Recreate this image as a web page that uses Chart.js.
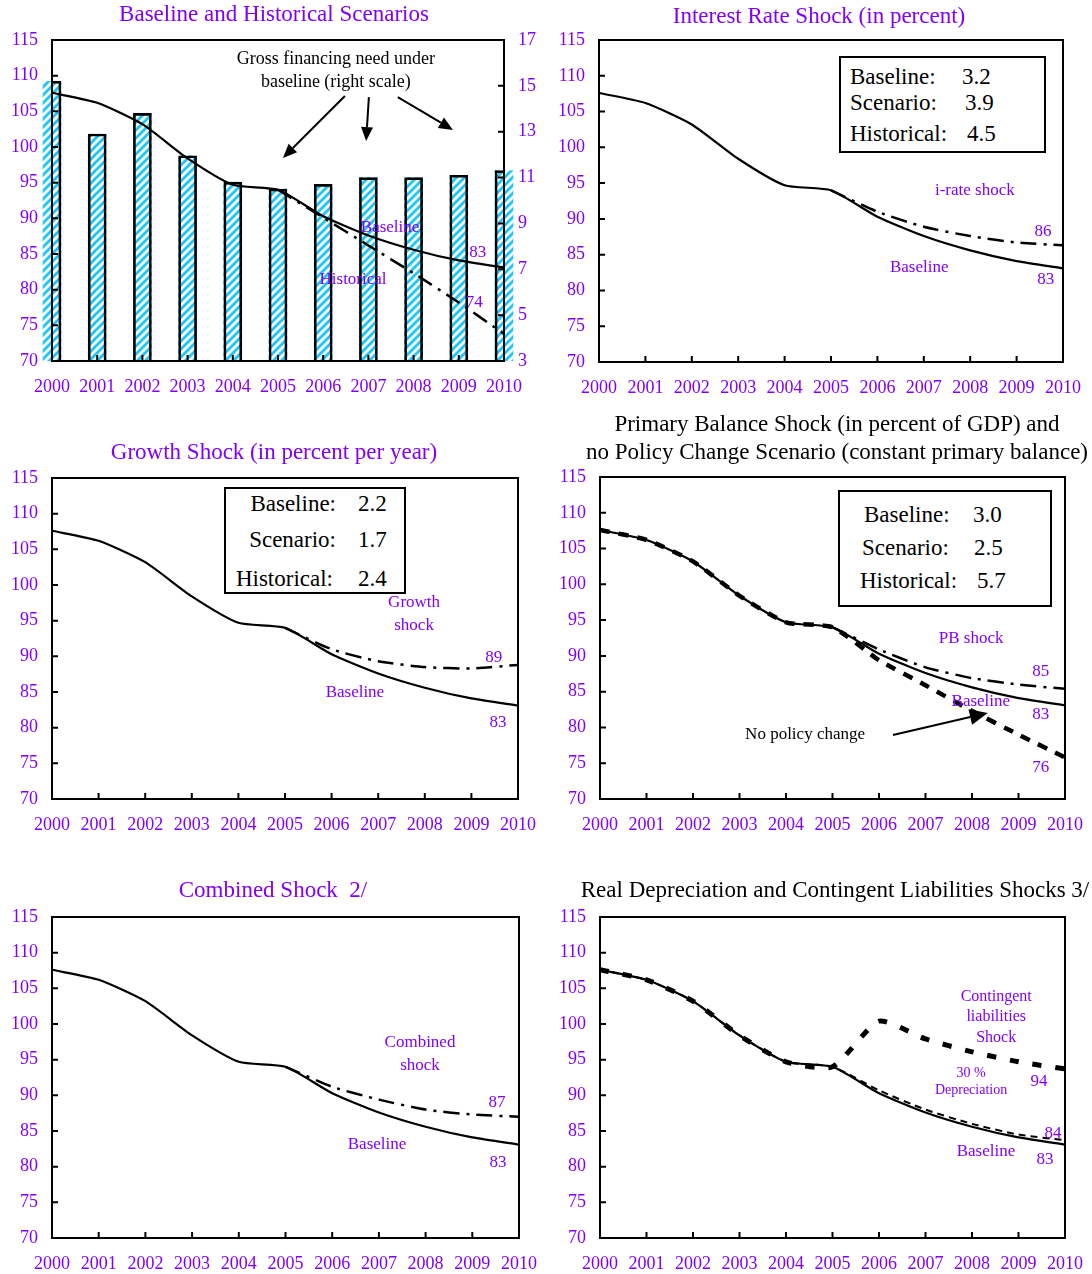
<!DOCTYPE html>
<html>
<head>
<meta charset="utf-8">
<title>Public Debt Sustainability: Bound Tests</title>
<script src="https://cdn.jsdelivr.net/npm/chart.js@4.4.1/dist/chart.umd.min.js"></script>
<style>
  html, body { margin: 0; padding: 0; background: #fff; }
  body { position: relative; width: 1092px; height: 1274px; overflow: hidden;
         font-family: "Liberation Serif", "Times New Roman", serif; }
  canvas { position: absolute; }
  .title { position: absolute; white-space: nowrap; font-size: 23px; line-height: 26px;
           transform: translateX(-50%); text-align: center; }
  .purple { color: #8000ff; }
  .black { color: #000; }
  .box { position: absolute; border: 2px solid #000; background: #fff; box-sizing: border-box; }
  .box span { position: absolute; white-space: nowrap; font-size: 23px; line-height: 26px; color: #000; }
</style>
</head>
<body>

<canvas id="c1"></canvas>
<canvas id="c2"></canvas>
<canvas id="c3"></canvas>
<canvas id="c4"></canvas>
<canvas id="c5"></canvas>
<canvas id="c6"></canvas>

<div class="title purple" style="left:274px; top:1px;">Baseline and Historical Scenarios</div>
<div class="title purple" style="left:819px; top:3px;">Interest Rate Shock (in percent)</div>
<div class="title purple" style="left:274px; top:439px;">Growth Shock (in percent per year)</div>
<div class="title black" style="left:837px; top:410px; line-height:28px;">Primary Balance Shock (in percent of GDP) and<br>no Policy Change Scenario (constant primary balance)</div>
<div class="title purple" style="left:273px; top:877px;">Combined Shock&nbsp; 2/</div>
<div class="title black" style="left:835px; top:877px;">Real Depreciation and Contingent Liabilities Shocks 3/</div>

<div class="box" style="left:839px; top:56px; width:207px; height:97px;">
  <span style="left:9px; top:6px;">Baseline:</span><span style="left:121px; top:6px;">3.2</span>
  <span style="left:9px; top:32px;">Scenario:</span><span style="left:124px; top:32px;">3.9</span>
  <span style="left:9px; top:63px;">Historical:</span><span style="left:126px; top:63px;">4.5</span>
</div>
<div class="box" style="left:224px; top:487px; width:182px; height:107px;">
  <span style="right:68px; top:2px;">Baseline:</span><span style="left:132px; top:2px;">2.2</span>
  <span style="right:68px; top:38px;">Scenario:</span><span style="left:132px; top:38px;">1.7</span>
  <span style="right:71px; top:77px;">Historical:</span><span style="left:132px; top:77px;">2.4</span>
</div>
<div class="box" style="left:838px; top:490px; width:214px; height:117px;">
  <span style="left:24px; top:10px;">Baseline:</span><span style="left:133px; top:10px;">3.0</span>
  <span style="left:22px; top:43px;">Scenario:</span><span style="left:134px; top:43px;">2.5</span>
  <span style="left:20px; top:76px;">Historical:</span><span style="left:137px; top:76px;">5.7</span>
</div>

<script>
// ---- Data: public debt (in percent of GDP) and gross financing need ----
const years = ['2000', '2001', '2002', '2003', '2004', '2005', '2006', '2007', '2008', '2009', '2010'];
const debtTicks = [70, 75, 80, 85, 90, 95, 100, 105, 110, 115];
const gfnTicks = [3, 5, 7, 9, 11, 13, 15, 17];

const baseline = [107.6, 106.2, 103.2, 98.4, 94.7, 94.0, 90.3, 87.6, 85.6, 84.1, 83.1];
const grossFinancingNeed = [15.2, 12.9, 13.8, 11.95, 10.8, 10.5, 10.7, 11.0, 11.0, 11.1, 11.3];
const historical = [null, null, null, null, null, 94.0, 90.1, 86.2, 82.3, 78.2, 73.8];
const interestRateShock = [null, null, null, null, null, 94.0, 91.0, 88.9, 87.6, 86.7, 86.3];
const growthShock = [null, null, null, null, null, 94.0, 91.0, 89.3, 88.5, 88.3, 88.8];
const pbShock = [null, null, null, null, null, 94.0, 90.9, 88.4, 86.9, 86.0, 85.4];
const noPolicyChange = [107.6, 106.2, 103.2, 98.4, 94.7, 94.0, 89.4, 85.9, 82.3, 79.0, 75.8];
const combinedShock = [null, null, null, null, null, 94.0, 91.2, 89.4, 88.0, 87.3, 87.0];
const depreciation30 = [107.6, 106.2, 103.2, 98.4, 94.7, 94.0, 90.7, 88.0, 86.0, 84.5, 83.7];
const contingentLiabilities = [107.6, 106.2, 103.2, 98.4, 94.7, 94.0, 100.4, 97.9, 96.1, 94.7, 93.7];

// ---- Styling ----
const PURPLE = '#8000ff';
const FONT = '"Liberation Serif", "Times New Roman", serif';
Chart.defaults.font.family = FONT;

const last = arr => arr[arr.length - 1];

// Frame, inward tick marks, text notes and arrows drawn on top of the series
const decor = {
  id: 'decor',
  afterDatasetsDraw(chart, args, opts) {
    const { ctx, chartArea: a, scales } = chart;
    const sx = scales.x, sy = scales.y;
    const px = yr => sx.getPixelForValue(yr - 2000);
    ctx.save();
    ctx.strokeStyle = '#000';
    ctx.lineWidth = 2;
    ctx.beginPath();
    sx.ticks.forEach((t, i) => {
      const x = sx.getPixelForTick(i);
      ctx.moveTo(x, a.bottom); ctx.lineTo(x, a.bottom - 6);
    });
    sy.ticks.forEach(t => {
      const y = sy.getPixelForValue(t.value);
      ctx.moveTo(a.left, y); ctx.lineTo(a.left + 6, y);
    });
    if (scales.y1) {
      scales.y1.ticks.forEach(t => {
        const y = scales.y1.getPixelForValue(t.value);
        ctx.moveTo(a.right, y); ctx.lineTo(a.right - 6, y);
      });
    }
    ctx.stroke();
    ctx.strokeRect(a.left, a.top, a.right - a.left, a.bottom - a.top);

    (opts.arrows || []).forEach(ar => {
      const x0 = px(ar.from[0]), y0 = sy.getPixelForValue(ar.from[1]);
      const x1 = px(ar.to[0]), y1 = sy.getPixelForValue(ar.to[1]);
      const len = ar.head || 14, half = ar.half || 6;
      const ang = Math.atan2(y1 - y0, x1 - x0);
      const bx = x1 - len * Math.cos(ang), by = y1 - len * Math.sin(ang);
      ctx.lineWidth = 2;
      ctx.beginPath(); ctx.moveTo(x0, y0); ctx.lineTo(bx, by); ctx.stroke();
      ctx.fillStyle = '#000';
      ctx.beginPath();
      ctx.moveTo(x1, y1);
      ctx.lineTo(bx + half * Math.sin(ang), by - half * Math.cos(ang));
      ctx.lineTo(bx - half * Math.sin(ang), by + half * Math.cos(ang));
      ctx.closePath(); ctx.fill();
    });

    ctx.textAlign = 'center';
    ctx.textBaseline = 'middle';
    (opts.notes || []).forEach(n => {
      const text = n.series ? String(Math.round(last(n.series))) : n.text;
      ctx.font = (n.size || 17) + 'px ' + FONT;
      ctx.fillStyle = n.color || PURPLE;
      ctx.fillText(text, px(n.x), sy.getPixelForValue(n.y));
    });
    ctx.restore();
  }
};

function lineSet(data, style) {
  return Object.assign({
    type: 'line', data, borderColor: '#000', borderWidth: 2.2, pointRadius: 0,
    tension: 0.2, fill: false, borderCapStyle: 'butt', order: 1
  }, style || {});
}
const DASH_DOT = { borderWidth: 2.5, borderDash: [16, 7, 3, 7] };

function makePanel(id, area, cfg) {
  const rs = cfg.rightSpace !== undefined ? cfg.rightSpace : 27;
  const axisRight = cfg.rightAxis ? 40 : 0;
  const canvas = document.getElementById(id);
  const w = area.r - area.l + 52 + axisRight + rs, h = area.b - area.t + 30 + 45;
  canvas.width = w; canvas.height = h;
  canvas.style.width = w + 'px'; canvas.style.height = h + 'px';
  canvas.style.left = (area.l - 52) + 'px';
  canvas.style.top = (area.t - 30) + 'px';
  const datasets = cfg.datasets(canvas.getContext('2d'));

  const scales = {
    x: {
      type: 'category', offset: false,
      grid: { display: false, drawTicks: false }, border: { display: false },
      ticks: { color: PURPLE, font: { size: 18 }, padding: 15, autoSkip: false, maxRotation: 0 },
      afterFit(s) { s.height = 45; s.paddingLeft = 0; s.paddingRight = 0; }
    },
    y: {
      min: 70, max: 115,
      grid: { display: false, drawTicks: false }, border: { display: false },
      ticks: { color: PURPLE, font: { size: 18 }, padding: 14 },
      afterBuildTicks(s) { s.ticks = debtTicks.map(v => ({ value: v })); },
      afterFit(s) { s.width = 52; s.paddingTop = 0; s.paddingBottom = 0; }
    }
  };
  if (cfg.rightAxis) {
    scales.y1 = {
      position: 'right', min: 3, max: 17,
      grid: { display: false, drawTicks: false }, border: { display: false },
      ticks: { color: PURPLE, font: { size: 18 }, padding: 14 },
      afterBuildTicks(s) { s.ticks = gfnTicks.map(v => ({ value: v })); },
      afterFit(s) { s.width = axisRight; s.paddingTop = 0; s.paddingBottom = 0; }
    };
  }

  new Chart(canvas, {
    type: 'line',
    data: { labels: years, datasets },
    options: {
      responsive: false, animation: false, devicePixelRatio: 1,
      layout: { autoPadding: false, padding: { top: 30, right: rs, left: 0, bottom: 0 } },
      plugins: {
        legend: { display: false }, tooltip: { enabled: false },
        decor: { notes: cfg.notes || [], arrows: cfg.arrows || [] }
      },
      scales
    },
    plugins: [decor]
  });
}

function hatch(ctx) {
  const c = document.createElement('canvas');
  c.width = 8; c.height = 8;
  const g = c.getContext('2d');
  g.fillStyle = '#fff'; g.fillRect(0, 0, 8, 8);
  g.strokeStyle = '#22c8f4'; g.lineWidth = 3;
  g.beginPath();
  g.moveTo(-2, 10); g.lineTo(10, -2);
  g.moveTo(-6, 6); g.lineTo(6, -6);
  g.moveTo(2, 14); g.lineTo(14, 2);
  g.stroke();
  return ctx.createPattern(c, 'repeat');
}

// 1. Baseline and historical scenarios, with gross financing need bars
makePanel('c1', { l: 52, t: 40, r: 504, b: 361 }, {
  rightSpace: 0, rightAxis: true,
  datasets: ctx => [
    { type: 'bar', label: 'Gross financing need', data: grossFinancingNeed, yAxisID: 'y1',
      backgroundColor: hatch(ctx), borderWidth: 0, barThickness: 18, grouped: false,
      clip: { left: false, right: false, top: 0, bottom: 0 }, order: 3 },
    { type: 'bar', label: 'Gross financing need outline', data: grossFinancingNeed, yAxisID: 'y1',
      backgroundColor: 'rgba(0,0,0,0)', borderColor: '#000', borderWidth: 2, borderSkipped: 'bottom',
      barThickness: 18, grouped: false, clip: 0, order: 2 },
    lineSet(historical, Object.assign({ label: 'Historical' }, DASH_DOT)),
    lineSet(baseline, { label: 'Baseline', order: 0 })
  ],
  notes: [
    { text: 'Gross financing need under', x: 2006.28, y: 112.34, color: '#000', size: 18 },
    { text: 'baseline (right scale)', x: 2006.28, y: 109.11, color: '#000', size: 18 },
    { text: 'Baseline', x: 2007.48, y: 88.78 },
    { text: 'Historical', x: 2006.66, y: 81.49 },
    { series: baseline, x: 2009.42, y: 85.14 },
    { series: historical, x: 2009.34, y: 78.13 }
  ],
  arrows: [
    { from: [2006.48, 107.15], to: [2005.11, 98.46] },
    { from: [2007.01, 107.0], to: [2006.95, 100.84] },
    { from: [2007.65, 107.0], to: [2008.87, 102.4] }
  ]
});

// 2. Interest rate shock
makePanel('c2', { l: 599, t: 40, r: 1063, b: 362 }, {
  datasets: () => [
    lineSet(interestRateShock, Object.assign({ label: 'i-rate shock' }, DASH_DOT)),
    lineSet(baseline, { label: 'Baseline', order: 0 })
  ],
  notes: [
    { text: 'i-rate shock', x: 2008.10, y: 93.9 },
    { text: 'Baseline', x: 2006.90, y: 83.14 },
    { series: interestRateShock, x: 2009.57, y: 88.17 },
    { series: baseline, x: 2009.63, y: 81.46 }
  ]
});

// 3. Growth shock
makePanel('c3', { l: 52, t: 478, r: 518, b: 799 }, {
  datasets: () => [
    lineSet(growthShock, Object.assign({ label: 'Growth shock' }, DASH_DOT)),
    lineSet(baseline, { label: 'Baseline', order: 0 })
  ],
  notes: [
    { text: 'Growth', x: 2007.77, y: 97.48 },
    { text: 'shock', x: 2007.77, y: 94.26 },
    { text: 'Baseline', x: 2006.50, y: 84.86 },
    { series: growthShock, x: 2009.48, y: 89.77 },
    { series: baseline, x: 2009.57, y: 80.79 }
  ]
});

// 4. Primary balance shock and no policy change
makePanel('c4', { l: 600, t: 477, r: 1065, b: 799 }, {
  datasets: () => [
    lineSet(noPolicyChange, { label: 'No policy change', borderWidth: 4.5, borderDash: [10, 9], order: 2 }),
    lineSet(pbShock, Object.assign({ label: 'PB shock' }, DASH_DOT)),
    lineSet(baseline, { label: 'Baseline', order: 0 })
  ],
  notes: [
    { text: 'PB shock', x: 2007.98, y: 92.36 },
    { text: 'Baseline', x: 2008.19, y: 83.56 },
    { text: 'No policy change', x: 2004.41, y: 78.95, color: '#000' },
    { series: pbShock, x: 2009.48, y: 87.75 },
    { series: baseline, x: 2009.48, y: 81.75 },
    { series: noPolicyChange, x: 2009.48, y: 74.33 }
  ],
  arrows: [
    { from: [2006.30, 78.95], to: [2008.34, 82.02], head: 18, half: 8 }
  ]
});

// 5. Combined shock
makePanel('c5', { l: 52, t: 917, r: 519, b: 1238 }, {
  datasets: () => [
    lineSet(combinedShock, Object.assign({ label: 'Combined shock' }, DASH_DOT)),
    lineSet(baseline, { label: 'Baseline', order: 0 })
  ],
  notes: [
    { text: 'Combined', x: 2007.88, y: 97.34 },
    { text: 'shock', x: 2007.88, y: 94.12 },
    { text: 'Baseline', x: 2006.96, y: 83.17 },
    { series: combinedShock, x: 2009.53, y: 89.06 },
    { series: baseline, x: 2009.55, y: 80.51 }
  ]
});

// 6. Real depreciation and contingent liabilities shocks
makePanel('c6', { l: 600, t: 917, r: 1065, b: 1238 }, {
  datasets: () => [
    lineSet(contingentLiabilities, { label: 'Contingent liabilities shock', borderWidth: 5, borderDash: [9, 14], order: 2 }),
    lineSet(depreciation30, { label: '30 % depreciation', borderWidth: 2, borderDash: [7, 5], order: 1 }),
    lineSet(baseline, { label: 'Baseline', order: 0 })
  ],
  notes: [
    { text: 'Contingent', x: 2008.52, y: 103.78, size: 16 },
    { text: 'liabilities', x: 2008.52, y: 100.97, size: 16 },
    { text: 'Shock', x: 2008.52, y: 98.03, size: 16 },
    { text: '30 %', x: 2007.98, y: 93.12, size: 14 },
    { text: 'Depreciation', x: 2007.98, y: 90.74, size: 14 },
    { text: 'Baseline', x: 2008.30, y: 82.06 },
    { series: contingentLiabilities, x: 2009.44, y: 91.87 },
    { series: depreciation30, x: 2009.74, y: 84.58 },
    { series: baseline, x: 2009.57, y: 81.07 }
  ]
});
</script>
</body>
</html>
